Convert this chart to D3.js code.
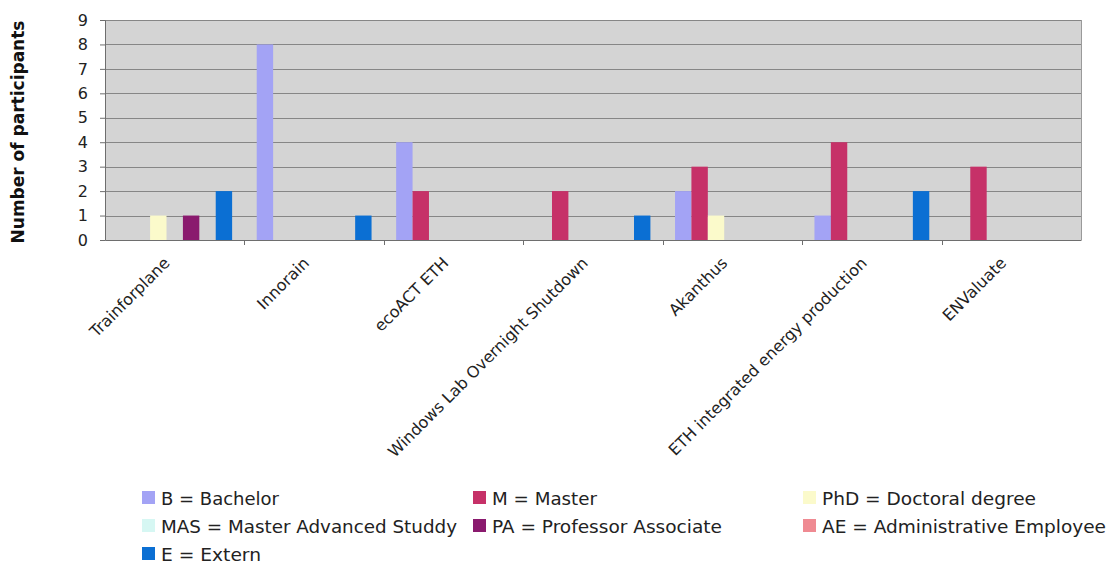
<!DOCTYPE html>
<html>
<head>
<meta charset="utf-8">
<script src="https://cdn.jsdelivr.net/npm/d3@7"></script>
<style>
  html, body { margin: 0; padding: 0; background: #ffffff; }
  svg { display: block; }
</style>
</head>
<body>
<svg id="chart" width="1111" height="569"></svg>
<script>
// ---- data ----
const categories = ["Trainforplane", "Innorain", "ecoACT ETH", "Windows Lab Overnight Shutdown", "Akanthus", "ETH integrated energy production", "ENValuate"];
const seriesKeys = ["B", "M", "PhD", "MAS", "PA", "AE", "E"];
const seriesLabels = ["B = Bachelor", "M = Master", "PhD = Doctoral degree", "MAS = Master Advanced Studdy", "PA = Professor Associate", "AE = Administrative Employee", "E = Extern"];
const B   = [0, 8, 4, 0, 2, 1, 0];
const M   = [0, 0, 2, 2, 3, 4, 3];
const PhD = [1, 0, 0, 0, 1, 0, 0];
const MAS = [0, 0, 0, 0, 0, 0, 0];
const PA  = [1, 0, 0, 0, 0, 0, 0];
const AE  = [0, 0, 0, 0, 0, 0, 0];
const E   = [2, 1, 0, 1, 0, 2, 0];
const yTicks = [0, 1, 2, 3, 4, 5, 6, 7, 8, 9];
const yTitle = "Number of participants";

const seriesValues = { B, M, PhD, MAS, PA, AE, E };
const colors = {
  B: "#a3a3f5", M: "#c63168", PhD: "#fbfacb", MAS: "#d6f7f3",
  PA: "#8a1a6e", AE: "#ef8a92", E: "#0b6fd3"
};

// ---- layout ----
const svg = d3.select("#chart");
const plot = { left: 105, right: 1081, top: 20, bottom: 240 };

const x = d3.scaleBand().domain(categories).range([plot.left, plot.right]).paddingInner(0).paddingOuter(0);
const xs = d3.scaleBand().domain(seriesKeys).range([0, x.bandwidth()]).paddingInner(0).paddingOuter(0.75);
const y = d3.scaleLinear().domain([0, 9]).range([plot.bottom, plot.top]);

// plot background
svg.append("rect")
  .attr("x", plot.left).attr("y", plot.top)
  .attr("width", plot.right - plot.left).attr("height", plot.bottom - plot.top)
  .attr("fill", "#d4d4d4");

// gridlines
svg.append("g")
  .selectAll("line")
  .data(yTicks.filter(d => d > 0))
  .join("line")
  .attr("x1", plot.left).attr("x2", plot.right)
  .attr("y1", d => Math.round(y(d)) + 0.5).attr("y2", d => Math.round(y(d)) + 0.5)
  .attr("stroke", "#868686").attr("stroke-width", 1);

// right border
svg.append("line")
  .attr("x1", plot.right + 0.5).attr("x2", plot.right + 0.5)
  .attr("y1", plot.top).attr("y2", plot.bottom)
  .attr("stroke", "#9a9a9a");

// bars
const rows = [];
categories.forEach((c, i) => {
  seriesKeys.forEach(k => {
    rows.push({ cat: c, key: k, value: seriesValues[k][i] });
  });
});
svg.append("g")
  .selectAll("rect")
  .data(rows.filter(d => d.value > 0))
  .join("rect")
  .attr("x", d => x(d.cat) + xs(d.key))
  .attr("width", xs.bandwidth())
  .attr("y", d => y(d.value))
  .attr("height", d => y(0) - y(d.value))
  .attr("fill", d => colors[d.key]);

// y axis
const yAxis = svg.append("g")
  .attr("transform", `translate(${plot.left},0)`)
  .call(d3.axisLeft(y).tickValues(yTicks).tickFormat(d3.format("d")).tickSize(5).tickPadding(12));
yAxis.select(".domain").attr("stroke", "#6e6e6e");
yAxis.selectAll(".tick line").attr("stroke", "#6e6e6e");
yAxis.selectAll("text")
  .attr("font-family", "DejaVu Sans, Verdana, sans-serif")
  .attr("font-size", 16)
  .attr("fill", "#222");

// x axis
const xAxis = svg.append("g")
  .attr("transform", `translate(0,${plot.bottom})`)
  .call(d3.axisBottom(x).tickSize(0).tickFormat(""));
xAxis.select(".domain").attr("stroke", "#6e6e6e");
xAxis.selectAll(".tick").remove();
// category boundary ticks
svg.append("g")
  .selectAll("line")
  .data(categories.slice(1))
  .join("line")
  .attr("x1", d => Math.round(x(d)) + 0.5).attr("x2", d => Math.round(x(d)) + 0.5)
  .attr("y1", plot.bottom).attr("y2", plot.bottom + 5)
  .attr("stroke", "#6e6e6e");

// category labels
svg.append("g")
  .selectAll("text")
  .data(categories)
  .join("text")
  .attr("transform", d => `translate(${x(d) + x.bandwidth() / 2 - 4},${plot.bottom + 24}) rotate(-45)`)
  .attr("text-anchor", "end")
  .attr("font-family", "DejaVu Sans, Verdana, sans-serif")
  .attr("font-size", 16)
  .attr("fill", "#222")
  .text(d => d);

// y title
svg.append("text")
  .attr("transform", `translate(24,${(plot.top + plot.bottom) / 2 + 2}) rotate(-90)`)
  .attr("text-anchor", "middle")
  .attr("font-family", "DejaVu Sans, Verdana, sans-serif")
  .attr("font-weight", "bold")
  .attr("font-size", 17)
  .attr("fill", "#111")
  .text(yTitle);

// legend (row-major: 3 columns)
const legendOrder = ["B", "M", "PhD", "MAS", "PA", "AE", "E"];
const colX = [142, 473, 803];
const rowY = [498, 526, 554];
const legendWidths = { B: 118, M: 105, PhD: 214, MAS: 296, PA: 230, AE: 284, E: 100 };
const lg = svg.append("g");
legendOrder.forEach((k, i) => {
  const col = i % 3, row = Math.floor(i / 3);
  const gx = colX[col], gy = rowY[row];
  lg.append("rect")
    .attr("x", gx).attr("y", gy - 7)
    .attr("width", 13).attr("height", 13)
    .attr("fill", colors[k]);
  lg.append("text")
    .attr("x", gx + 19).attr("y", gy + 7)
    .attr("font-family", "DejaVu Sans Condensed, DejaVu Sans, sans-serif")
    .attr("font-size", 18)
    .attr("textLength", legendWidths[k])
    .attr("lengthAdjust", "spacingAndGlyphs")
    .attr("fill", "#222")
    .text(seriesLabels[seriesKeys.indexOf(k)]);
});
</script>
</body>
</html>
